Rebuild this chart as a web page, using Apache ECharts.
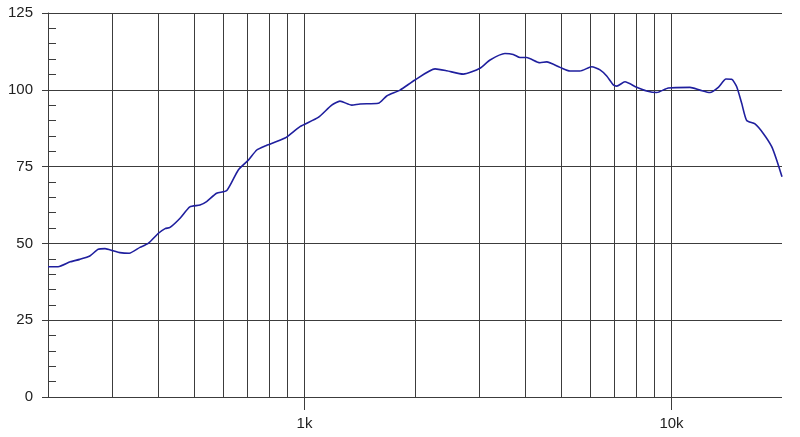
<!DOCTYPE html>
<html>
<head>
<meta charset="utf-8">
<script src="https://cdn.jsdelivr.net/npm/echarts@6/dist/echarts.min.js"></script>
<style>html,body{margin:0;padding:0;background:#fff}#c{width:800px;height:437px}</style>
</head>
<body>
<div id="c"></div>
<script>
// Frequency (Hz)
const freqs = [200, 213, 230, 244, 260, 274, 286, 301, 314, 333, 356, 375, 400, 417, 430, 458, 487, 519, 541, 576, 614, 660, 703, 741, 780, 885, 972, 1090, 1186, 1249, 1345, 1416, 1589, 1675, 1820, 2000, 2268, 2440, 2708, 3007, 3203, 3517, 3705, 3865, 4031, 4381, 4570, 4968, 5288, 5630, 6061, 6385, 6659, 6940, 7090, 7467, 8035, 8556, 9112, 9799, 11226, 11957, 12730, 13410, 14075, 14586, 15053, 15532, 16026, 16882, 17783, 18750, 19350, 20000];
// Level (dB)
const levels = [42.4, 42.4, 44.0, 44.8, 45.9, 48.1, 48.3, 47.6, 47.0, 46.8, 48.7, 50.0, 53.3, 54.8, 55.2, 58.2, 61.9, 62.5, 63.6, 66.3, 67.2, 73.9, 77.1, 80.4, 81.7, 84.3, 88.0, 91.0, 95.0, 96.3, 95.0, 95.4, 95.6, 98.0, 99.9, 103.2, 106.8, 106.2, 105.1, 107.0, 109.7, 111.8, 111.5, 110.5, 110.5, 108.8, 109.1, 107.3, 106.1, 106.1, 107.5, 106.5, 104.5, 101.6, 101.2, 102.6, 100.8, 99.6, 99.1, 100.6, 100.8, 99.9, 99.1, 100.8, 103.5, 103.4, 101.0, 95.6, 90.0, 88.9, 85.8, 81.5, 77.1, 71.7];
// Minor vertical grid lines
const minorFreqs = [300, 400, 500, 600, 700, 800, 900, 2000, 3000, 4000, 5000, 6000, 7000, 8000, 9000];
// Labelled x ticks
const xTickValues = [1000, 10000];
const xTickLabels = {1000: '1k', 10000: '10k'};
const yMin = 0, yMax = 125, yStep = 25, yMinorStep = 5;

const gridColor = '#3c3c3c';
const chart = echarts.init(document.getElementById('c'), null, {renderer: 'canvas'});
chart.setOption({
  animation: false,
  backgroundColor: '#ffffff',
  grid: {left: 48, right: 18, top: 13, bottom: 40, containLabel: false},
  xAxis: {
    type: 'log', logBase: 10, min: 200, max: 20000,
    axisLine: {show: false},
    axisTick: {show: true, customValues: xTickValues, length: 13, lineStyle: {color: gridColor, width: 1}},
    axisLabel: {show: true, customValues: xTickValues, margin: 19,
      formatter: v => xTickLabels[Math.round(v)] || '',
      fontFamily: 'Liberation Sans, Arial, sans-serif', fontSize: 15, color: '#222'},
    splitLine: {show: true, lineStyle: {color: gridColor, width: 1}},
    minorTick: {show: false}, minorSplitLine: {show: false}
  },
  yAxis: [{
    type: 'value', min: yMin, max: yMax, interval: yStep,
    axisLine: {show: true, lineStyle: {color: gridColor, width: 1}},
    axisTick: {show: true, length: 6, lineStyle: {color: gridColor}},
    axisLabel: {margin: 15, fontFamily: 'Liberation Sans, Arial, sans-serif', fontSize: 15, color: '#222'},
    splitLine: {show: true, lineStyle: {color: gridColor, width: 1}}
  }, {
    type: 'value', min: yMin, max: yMax, interval: yMinorStep, position: 'left',
    axisLine: {show: false},
    axisTick: {show: true, inside: true, length: 8, lineStyle: {color: gridColor}},
    axisLabel: {show: false},
    splitLine: {show: false}
  }],
  series: [{
    type: 'line',
    yAxisIndex: 0,
    data: freqs.map((f, i) => [f, levels[i]]),
    showSymbol: false,
    smooth: 0.2,
    lineStyle: {color: '#1f1f9e', width: 1.6},
    z: 5,
    markLine: {
      silent: true, symbol: 'none', animation: false,
      label: {show: false},
      lineStyle: {color: gridColor, width: 1, type: 'solid'},
      data: minorFreqs.map(f => ({xAxis: f}))
    }
  }]
});
</script>
</body>
</html>
